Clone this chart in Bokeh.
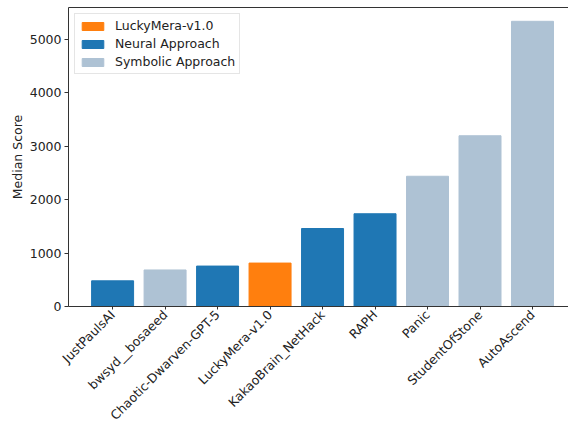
import math
from bokeh.plotting import figure
from bokeh.models import ColumnDataSource, Range1d, FixedTicker, LinearAxis, Legend, LegendItem
from bokeh.embed import file_html
from bokeh.resources import INLINE

agents = ["JustPaulsAI", "bwsyd__bosaeed", "Chaotic-Dwarven-GPT-5", "LuckyMera-v1.0",
          "KakaoBrain_NetHack", "RAPH", "Panic", "StudentOfStone", "AutoAscend"]
scores = [480, 683, 756, 812, 1458, 1734, 2435, 3192, 5332]
kinds = ["Neural Approach", "Symbolic Approach", "Neural Approach", "LuckyMera-v1.0",
         "Neural Approach", "Neural Approach", "Symbolic Approach", "Symbolic Approach",
         "Symbolic Approach"]
legend_order = ["LuckyMera-v1.0", "Neural Approach", "Symbolic Approach"]
colors = {"LuckyMera-v1.0": "#ff7f0e", "Neural Approach": "#1f77b4", "Symbolic Approach": "#aec2d4"}
yticks = [0, 1000, 2000, 3000, 4000, 5000]

FONT = "DejaVu Sans"
FS = "12.5px"

p = figure(width=568, height=431, output_backend="svg", toolbar_location=None,
           x_range=Range1d(-0.84, 8.686), y_range=Range1d(0, 5590),
           min_border_left=68, min_border_right=0, min_border_top=7, min_border_bottom=121,
           x_axis_location=None, y_axis_location=None)
p.grid.visible = False
p.outline_line_color = None
p.background_fill_color = "white"

items = []
for k in legend_order:
    xs = [i for i, t in enumerate(kinds) if t == k]
    src = ColumnDataSource(dict(x=xs, top=[scores[i] for i in xs]))
    r = p.vbar(x="x", top="top", width=0.8, source=src, fill_color=colors[k], line_color=colors[k])
    items.append(LegendItem(label=k, renderers=[r]))

xaxis = LinearAxis(ticker=FixedTicker(ticks=list(range(len(agents)))),
                   major_label_overrides={i: a for i, a in enumerate(agents)})
xaxis.major_label_orientation = math.pi / 4
yaxis = LinearAxis(ticker=FixedTicker(ticks=yticks), axis_label="Median Score")
topaxis = LinearAxis(ticker=FixedTicker(ticks=[]), major_label_text_font_size="0px")
for ax in (xaxis, yaxis, topaxis):
    ax.axis_line_color = "#333333"
    ax.major_tick_line_color = "#333333"
    ax.major_tick_out = 4
    ax.major_tick_in = 0
    ax.minor_tick_line_color = None
    ax.major_label_text_font = FONT
    ax.major_label_text_font_size = FS
    ax.major_label_text_color = "#222222"
    ax.axis_label_text_font = FONT
    ax.axis_label_text_font_size = FS
    ax.axis_label_text_font_style = "normal"
    ax.axis_label_text_color = "#222222"
xaxis.major_tick_out = 3
xaxis.major_label_standoff = 3
yaxis.major_label_standoff = 3
yaxis.axis_label_standoff = 2
topaxis.major_tick_line_color = None
p.add_layout(xaxis, "below")
p.add_layout(yaxis, "left")
p.add_layout(topaxis, "above")

legend = Legend(items=items, location="top_left")
legend.label_text_font = FONT
legend.label_text_font_size = FS
legend.label_text_color = "#222222"
legend.glyph_width = 27
legend.glyph_height = 10
legend.spacing = 3
legend.padding = 4
legend.margin = 6
legend.border_line_color = "#cccccc"
legend.background_fill_alpha = 0.8
legend.label_standoff = 9
p.add_layout(legend)

open("out.html", "w").write(file_html(p, INLINE))
